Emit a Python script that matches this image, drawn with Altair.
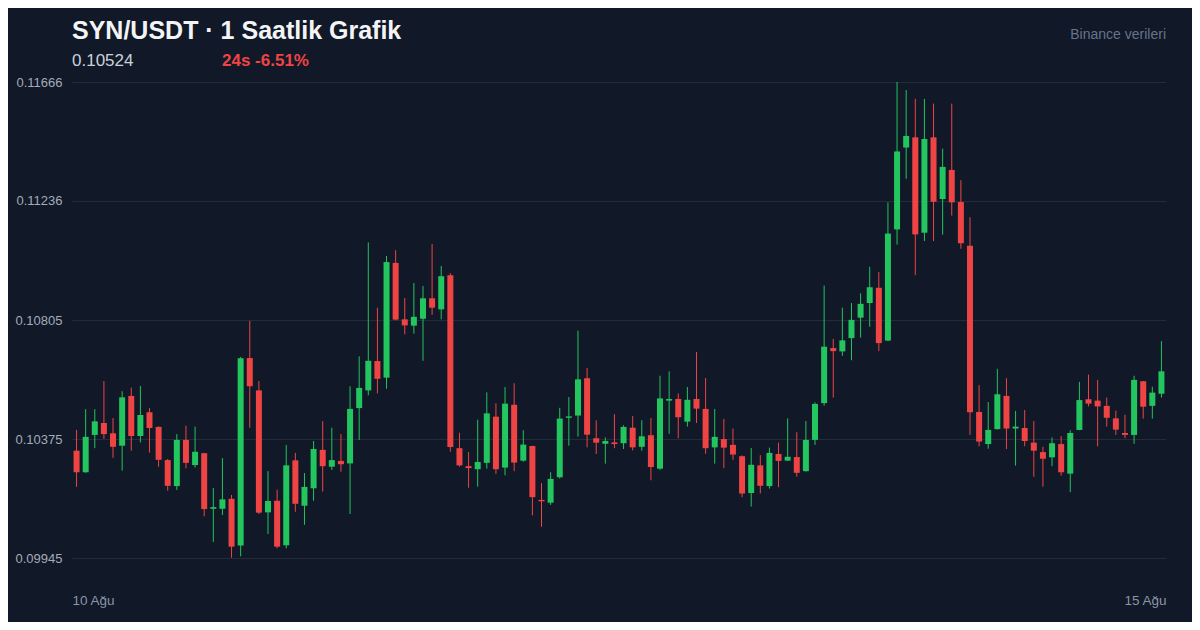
import altair as alt
import pandas as pd

OPEN = [0.10333, 0.10255, 0.10390, 0.10433, 0.10396, 0.10351, 0.10531, 0.10386, 0.10472, 0.10419,
        0.10299, 0.10205, 0.10372, 0.10281, 0.10324, 0.10123, 0.10123, 0.10159, 0.09990, 0.10668,
        0.10551, 0.10110, 0.10152, 0.09991, 0.10298, 0.10134, 0.10197, 0.10336, 0.10275, 0.10296,
        0.10287, 0.10487, 0.10551, 0.10657, 0.10597, 0.11012, 0.10808, 0.10785, 0.10810, 0.10884,
        0.10844, 0.10967, 0.10342, 0.10277, 0.10266, 0.10289, 0.10456, 0.10272, 0.10499, 0.10297,
        0.10350, 0.10155, 0.10145, 0.10237, 0.10452, 0.10460, 0.10595, 0.10378, 0.10358, 0.10363,
        0.10360, 0.10416, 0.10347, 0.10389, 0.10268, 0.10514, 0.10520, 0.10438, 0.10520, 0.10484,
        0.10345, 0.10375, 0.10354, 0.10313, 0.10180, 0.10280, 0.10205, 0.10321, 0.10297, 0.10310,
        0.10259, 0.10372, 0.10505, 0.10704, 0.10692, 0.10740, 0.10814, 0.10867, 0.10922, 0.10731,
        0.11133, 0.11429, 0.11466, 0.11121, 0.11466, 0.11243, 0.11348, 0.11232, 0.11074, 0.10473,
        0.10357, 0.10411, 0.10531, 0.10413, 0.10415, 0.10362, 0.10328, 0.10309, 0.10357, 0.10250,
        0.10408, 0.10519, 0.10514, 0.10495, 0.10450, 0.10397, 0.10390, 0.10584, 0.10495, 0.10539]
HIGH = [0.10408, 0.10483, 0.10483, 0.10585, 0.10451, 0.10548, 0.10561, 0.10567, 0.10487, 0.10421,
        0.10303, 0.10393, 0.10423, 0.10420, 0.10325, 0.10198, 0.10306, 0.10173, 0.10672, 0.10802,
        0.10585, 0.10259, 0.10192, 0.10354, 0.10325, 0.10252, 0.10368, 0.10440, 0.10416, 0.10393,
        0.10566, 0.10674, 0.11086, 0.10850, 0.11037, 0.11058, 0.10885, 0.10939, 0.10928, 0.11080,
        0.11001, 0.10975, 0.10398, 0.10328, 0.10445, 0.10544, 0.10504, 0.10563, 0.10577, 0.10407,
        0.10351, 0.10216, 0.10255, 0.10488, 0.10527, 0.10767, 0.10632, 0.10443, 0.10381, 0.10465,
        0.10425, 0.10458, 0.10443, 0.10451, 0.10604, 0.10620, 0.10540, 0.10563, 0.10690, 0.10596,
        0.10484, 0.10448, 0.10413, 0.10316, 0.10343, 0.10317, 0.10344, 0.10362, 0.10450, 0.10400,
        0.10440, 0.10508, 0.10930, 0.10737, 0.10850, 0.10867, 0.10902, 0.10998, 0.10979, 0.11231,
        0.11666, 0.11637, 0.11605, 0.11605, 0.11588, 0.11425, 0.11588, 0.11311, 0.11177, 0.10570,
        0.10509, 0.10629, 0.10595, 0.10477, 0.10480, 0.10440, 0.10347, 0.10381, 0.10386, 0.10407,
        0.10582, 0.10608, 0.10589, 0.10525, 0.10478, 0.10463, 0.10604, 0.10585, 0.10564, 0.10729]
LOW = [0.10202, 0.10253, 0.10342, 0.10376, 0.10307, 0.10261, 0.10333, 0.10363, 0.10326, 0.10275,
       0.10188, 0.10191, 0.10269, 0.10272, 0.10096, 0.10003, 0.10100, 0.09946, 0.09951, 0.10416,
       0.10104, 0.10032, 0.09980, 0.09980, 0.10112, 0.10065, 0.10152, 0.10185, 0.10263, 0.10257,
       0.10104, 0.10372, 0.10533, 0.10540, 0.10557, 0.10804, 0.10754, 0.10756, 0.10658, 0.10824,
       0.10808, 0.10329, 0.10275, 0.10199, 0.10203, 0.10268, 0.10249, 0.10244, 0.10259, 0.10293,
       0.10099, 0.10058, 0.10137, 0.10232, 0.10351, 0.10384, 0.10345, 0.10321, 0.10286, 0.10342,
       0.10339, 0.10334, 0.10333, 0.10226, 0.10264, 0.10394, 0.10378, 0.10420, 0.10433, 0.10322,
       0.10286, 0.10270, 0.10300, 0.10165, 0.10131, 0.10178, 0.10196, 0.10201, 0.10296, 0.10239,
       0.10257, 0.10354, 0.10496, 0.10525, 0.10676, 0.10660, 0.10742, 0.10781, 0.10693, 0.10729,
       0.11078, 0.11316, 0.10968, 0.11091, 0.11091, 0.11114, 0.11183, 0.11063, 0.10390, 0.10349,
       0.10340, 0.10409, 0.10339, 0.10279, 0.10349, 0.10239, 0.10203, 0.10277, 0.10243, 0.10183,
       0.10407, 0.10493, 0.10349, 0.10420, 0.10390, 0.10378, 0.10358, 0.10449, 0.10449, 0.10525]
CLOSE = [0.10255, 0.10383, 0.10439, 0.10393, 0.10347, 0.10526, 0.10386, 0.10462, 0.10415, 0.10300,
         0.10206, 0.10372, 0.10289, 0.10329, 0.10122, 0.10129, 0.10157, 0.09986, 0.10667, 0.10566,
         0.10109, 0.10151, 0.09986, 0.10280, 0.10141, 0.10202, 0.10339, 0.10277, 0.10299, 0.10284,
         0.10484, 0.10560, 0.10658, 0.10593, 0.11015, 0.10807, 0.10786, 0.10817, 0.10884, 0.10850,
         0.10964, 0.10346, 0.10280, 0.10270, 0.10292, 0.10468, 0.10266, 0.10503, 0.10290, 0.10355,
         0.10165, 0.10150, 0.10231, 0.10449, 0.10457, 0.10591, 0.10391, 0.10362, 0.10368, 0.10357,
         0.10419, 0.10345, 0.10385, 0.10274, 0.10522, 0.10520, 0.10454, 0.10517, 0.10485, 0.10342,
         0.10383, 0.10344, 0.10319, 0.10178, 0.10282, 0.10206, 0.10325, 0.10296, 0.10311, 0.10253,
         0.10372, 0.10502, 0.10709, 0.10693, 0.10732, 0.10806, 0.10864, 0.10924, 0.10722, 0.11118,
         0.11415, 0.11471, 0.11115, 0.11460, 0.11233, 0.11359, 0.11231, 0.11083, 0.10472, 0.10366,
         0.10408, 0.10537, 0.10413, 0.10420, 0.10368, 0.10333, 0.10304, 0.10360, 0.10255, 0.10397,
         0.10516, 0.10503, 0.10493, 0.10452, 0.10409, 0.10390, 0.10589, 0.10492, 0.10543, 0.10620]

Y_TICKS = [0.09945, 0.10375, 0.10805, 0.11236, 0.11666]
X_LABELS = ["10 Ağu", "15 Ağu"]
TITLE = "SYN/USDT · 1 Saatlik Grafik"
PRICE_TEXT = "0.10524"
CHANGE_TEXT = "24s -6.51%"
SOURCE_TEXT = "Binance verileri"

UP = "#22c55e"
DOWN = "#ef4444"
FONT = "Liberation Sans"

n = len(OPEN)
df = pd.DataFrame({
    "i": list(range(n)),
    "open": OPEN, "high": HIGH, "low": LOW, "close": CLOSE,
})
df["dir"] = ["up" if c >= o else "down" for o, c in zip(OPEN, CLOSE)]

x_enc = alt.X("i:Q",
              scale=alt.Scale(domain=[-0.5, n - 0.5], nice=False, zero=False, padding=0),
              axis=alt.Axis(values=[-0.5, n - 0.5],
                            labelExpr=f"datum.value < 0 ? '{X_LABELS[0]}' : '{X_LABELS[1]}'",
                            labelAlign={"condition": {"test": "datum.value < 0", "value": "left"},
                                        "value": "right"},
                            grid=False, domain=False, ticks=False,
                            labelPadding=35, labelColor="#8a96a8", labelFontSize=13.5,
                            labelFont=FONT),
              title=None)
y_scale = alt.Scale(domain=[Y_TICKS[0], Y_TICKS[-1]], nice=False, zero=False)
color = alt.Color("dir:N", scale=alt.Scale(domain=["up", "down"], range=[UP, DOWN]), legend=None)

base = alt.Chart(df)

wicks = base.mark_rule(strokeWidth=1).encode(
    x=x_enc,
    y=alt.Y("low:Q", scale=y_scale,
            axis=alt.Axis(values=Y_TICKS, format=".5f", grid=True, gridColor="#222c3b",
                          gridWidth=1, domain=False, ticks=False, labelPadding=10,
                          labelColor="#a3acb9", labelFontSize=13, labelFont=FONT),
            title=None),
    y2="high:Q",
    color=color,
)
bodies = base.mark_bar(size=6).encode(
    x="i:Q",
    y="open:Q",
    y2="close:Q",
    color=color,
)

def label(text, x, y, size, col, weight="normal", align="left"):
    return alt.Chart(pd.DataFrame({"t": [text]})).mark_text(
        align=align, baseline="alphabetic", fontSize=size, fontWeight=weight,
        color=col, font=FONT
    ).encode(x=alt.value(x), y=alt.value(y), text="t:N")

texts = (label(TITLE, 0, -43, 25, "#f3f4f6", "bold")
         + label(PRICE_TEXT, 0, -16, 17, "#c9d1dc")
         + label(CHANGE_TEXT, 150, -16, 17, DOWN, "bold")
         + label(SOURCE_TEXT, 1094, -43, 14, "#64748b", align="right"))

chart = alt.layer(wicks, bodies, texts).properties(
    width=1094, height=476,
    padding={"left": 64, "top": 74, "right": 26, "bottom": 64},
    autosize=alt.AutoSizeParams(type="none"),
    background="#111827",
).configure_view(stroke=None)

chart.save("out.html", embed_options={"renderer": "svg", "actions": False})
